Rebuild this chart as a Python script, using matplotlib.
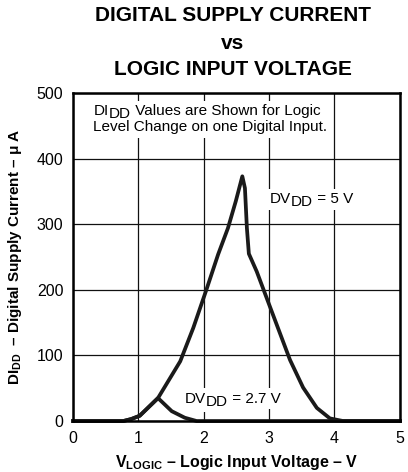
import numpy as np
import matplotlib
matplotlib.use("Agg")
from matplotlib import pyplot as plt

plt.rcParams['font.family'] = ['Liberation Sans', 'DejaVu Sans']
plt.rcParams['mathtext.fontset'] = 'custom'
plt.rcParams['mathtext.rm'] = 'Liberation Sans'
plt.rcParams['mathtext.bf'] = 'Liberation Sans:bold'
plt.rcParams['mathtext.it'] = 'Liberation Sans:italic'

# DVDD = 5 V curve (V, uA)
v_5 = [0.0, 0.77, 0.89, 1.02, 1.30, 1.64, 1.84, 2.04, 2.22, 2.37, 2.49, 2.59,
       2.63, 2.66, 2.69, 2.81, 3.01, 3.32, 3.52, 3.73, 3.93, 4.13, 5.0]
i_5 = [0, 0, 3, 8, 35, 91, 142, 200, 254, 294, 335, 373,
       355, 294, 255, 228, 175, 93, 51, 20, 4, 0, 0]

# DVDD = 2.7 V curve
v_27 = [0.0, 0.77, 0.89, 1.02, 1.30, 1.51, 1.71, 1.89, 5.0]
i_27 = [0, 0, 3, 8, 35, 15, 5, 0, 0]

x_ticks = [0, 1, 2, 3, 4, 5]
y_ticks = [0, 100, 200, 300, 400, 500]

WHITE = dict(facecolor='white', edgecolor='none', pad=2.5)
FS = 11
HIDDEN = (0, 0, 0, 0)


def piece(ax, s, anchor, dy):
    # white box first (invisible glyphs), real text drawn on top of it
    t = ax.annotate(s, xy=(1, 0), xycoords=anchor, xytext=(0, dy), textcoords='offset points',
                    fontsize=FS, va='bottom', ha='left', bbox=WHITE, color=HIDDEN, zorder=3)
    ax.annotate(s, xy=(0, 0), xycoords=t, fontsize=FS, va='bottom', ha='left', zorder=3.5)
    return t


def sub_text(ax, x, y, main, sub, rest):
    # text with a near full size lowered subscript, like the datasheet
    t1 = ax.text(x, y, main, fontsize=FS, va='baseline', ha='left', bbox=WHITE, color=HIDDEN, zorder=3)
    ax.annotate(main, xy=(0, 0), xycoords=t1, fontsize=FS, va='bottom', ha='left', zorder=3.5)
    t2 = piece(ax, sub, t1, -2.2)
    piece(ax, rest, t2, 2.2)


fig = plt.figure(figsize=(4.08, 4.72), dpi=100)
ax = fig.add_axes([0.179, 0.108, 0.801, 0.695])

ax.plot(v_5, i_5, color='#1a1a1a', lw=2.7, solid_joinstyle='round', clip_on=False, zorder=4)
ax.plot(v_27, i_27, color='#1a1a1a', lw=2.7, solid_joinstyle='round', clip_on=False, zorder=4)

ax.set_xlim(0, 5)
ax.set_ylim(0, 500)
ax.set_xticks(x_ticks)
ax.set_yticks(y_ticks)
ax.tick_params(labelsize=11.5, length=0, pad=7)
ax.grid(True, color='#111111', lw=0.9)
for s in ax.spines.values():
    s.set_linewidth(1.8)
    s.set_zorder(5)

sub_text(ax, 0.31, 466, "DI", "DD", " Values are Shown for Logic")
ax.text(0.31, 442, "Level Change on one Digital Input.", fontsize=FS, va='baseline', ha='left',
        bbox=WHITE, zorder=3)
sub_text(ax, 3.01, 332, "DV", "DD", " = 5 V")
sub_text(ax, 1.71, 28, "DV", "DD", " = 2.7 V")

ax.set_xlabel(r"$\mathbf{V_{LOGIC}}$ – Logic Input Voltage – V", fontsize=11.5, fontweight='bold', labelpad=5)
ax.set_ylabel(r"$\mathbf{DI_{DD}}$  – Digital Supply Current – μ A", fontsize=11, fontweight='bold', labelpad=9)

fig.text(0.57, 0.967, "DIGITAL SUPPLY CURRENT", ha='center', va='center', fontsize=15, fontweight='bold')
fig.text(0.57, 0.907, "vs", ha='center', va='center', fontsize=15, fontweight='bold')
fig.text(0.57, 0.853, "LOGIC INPUT VOLTAGE", ha='center', va='center', fontsize=15, fontweight='bold')

fig.savefig('out.png', dpi=100)
